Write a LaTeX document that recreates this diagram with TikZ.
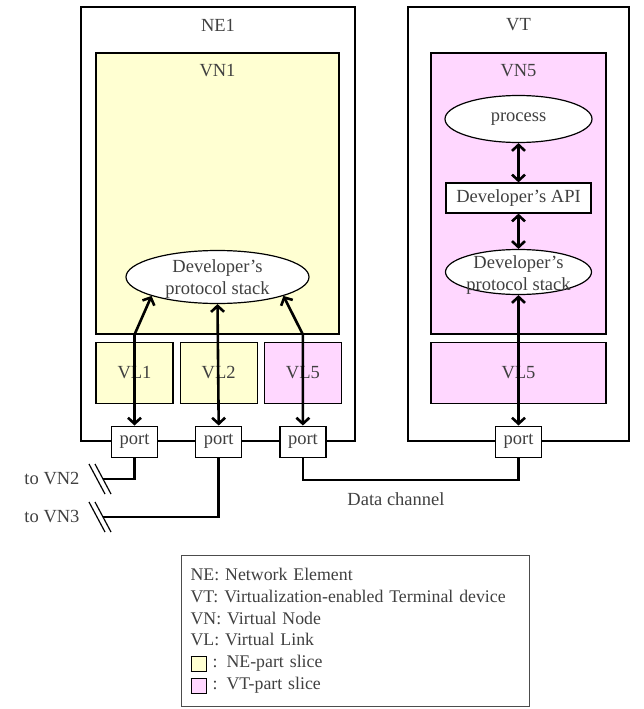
\documentclass[tikz,border=0pt]{standalone}
\usepackage{fontspec}
\setmainfont{Liberation Serif}
\usetikzlibrary{positioning,arrows.meta,shapes.geometric}
\definecolor{nefill}{HTML}{FFFFD2}
\definecolor{vtfill}{HTML}{FFD7FF}
\definecolor{txt}{HTML}{404040}
\newcommand{\keysq}[1]{{\setlength{\fboxsep}{1.5pt}\setlength{\fboxrule}{1.1pt}%
  \raisebox{-2pt}{\fcolorbox{black}{#1}{\rule{0pt}{11pt}\rule{11pt}{0pt}}}}}

\begin{document}
\begin{tikzpicture}[x=1pt, y=-1pt, font=\fontsize{18.5}{21.8}\selectfont, text=txt,
      >={Straight Barb[length=6pt,width=13pt]},
      box/.style={draw, line width=1.2pt, inner sep=0pt},
      ne/.style={box, fill=nefill},
      vt/.style={box, fill=vtfill},
      ell/.style={box, ellipse, fill=white},
      port/.style={box, fill=white, minimum width=46pt, minimum height=31pt},
      link/.style={<->, line width=2.6pt},
      wire/.style={line width=2.6pt},
      brk/.style={line width=1.2pt}]
    \useasboundingbox (0,0) rectangle (644,709);
    % network element
    \node[box, minimum width=274pt, minimum height=434pt] (ne1) at (218,224) {};
    \node (ne1lbl) at (218,25) {NE1};
    \node[ne, minimum width=243pt, minimum height=281pt] (vn1) at (217.5,193.5) {};
    \node (vn1lbl) at (217.5,71) {VN1};
    \node[ne, minimum width=77pt, minimum height=61pt] (vl1) at (134.5,373) {VL1};
    \node[ne, minimum width=77pt, minimum height=61pt, right=6pt of vl1] (vl2) {VL2};
    \node[vt, minimum width=77pt, minimum height=61pt, right=6pt of vl2] (vl5a) {VL5};
    \node[ell, minimum width=183pt, minimum height=53pt,
          label={[align=center, yshift=-2pt]center:{Developer's\\protocol stack}}] (stack1) at (217.5,277) {};
    \node[port] (p1) at (vl1.center |- ne1.south) {port};
    \node[port] (p2) at (vl2.center |- ne1.south) {port};
    \node[port] (p3) at (vl5a.center |- ne1.south) {port};
    \draw[link] (p1.north) -- (p1.north |- vn1.south) -- (stack1.196);
    \draw[link] (p2.north) -- (stack1.south);
    \draw[link] (p3.north) -- (p3.north |- vn1.south) -- (stack1.-16);
    % terminal device
    \node[box, minimum width=221pt, minimum height=434pt] (vt) at (518.5,224) {};
    \node (vtlbl) at (518.5,25) {VT};
    \node[vt, minimum width=175pt, minimum height=281pt] (vn5) at (518.5,193.5) {};
    \node (vn5lbl) at (518.5,71) {VN5};
    \node[ell, minimum width=147pt, minimum height=47pt] (proc) at (518.5,119) {process};
    \node[box, fill=white, minimum width=145pt, minimum height=30pt] (api) at (518.5,198) {Developer's API};
    \node[ell, minimum width=146pt, minimum height=45pt,
          label={[align=center, yshift=-3pt]center:{Developer's\\protocol stack}}] (stack2) at (518.5,272) {};
    \node[vt, minimum width=175pt, minimum height=61pt] (vl5b) at (518.5,373) {VL5};
    \node[port] (p4) at (vl5b.center |- vt.south) {port};
    \foreach \a/\b in {proc/api, api/stack2} \draw[link] (\a.south) -- (\b.north);
    \draw[link] (p4.north) -- (stack2.south);
    % links out
    \coordinate (cut2) at (103,479);
    \coordinate (cut3) at (103,517);
    \coordinate (chan) at (0,480);
    \draw[wire] (p1.south) |- (cut2);
    \draw[wire] (p2.south) |- (cut3);
    \draw[wire] (p3.south) -- (p3.south |- chan) -| (p4.south);
    \foreach \c in {cut2,cut3} \foreach \dx in {-6,0}
      \draw[brk] ([shift={(\dx-8,-15)}]\c) -- ++(16,30);
    \node[left=20pt of cut2] (tovn2) {to VN2};
    \node[left=20pt of cut3] (tovn3) {to VN3};
    \node (chanlbl) at (396,499) {Data channel};
    % key
    \node[draw=black!70, line width=1.2pt, anchor=north west, minimum width=348pt,
          minimum height=151pt, text width=330pt, inner xsep=9pt, align=left,
          font=\fontsize{17.8}{21.8}\selectfont] (key) at (181,555)
      {NE: Network Element\\
       VT: Virtualization-enabled Terminal device\\
       VN: Virtual Node\\
       VL: Virtual Link\\
       \keysq{nefill} : NE-part slice\\
       \keysq{vtfill} : VT-part slice};
  \end{tikzpicture}
\end{document}
